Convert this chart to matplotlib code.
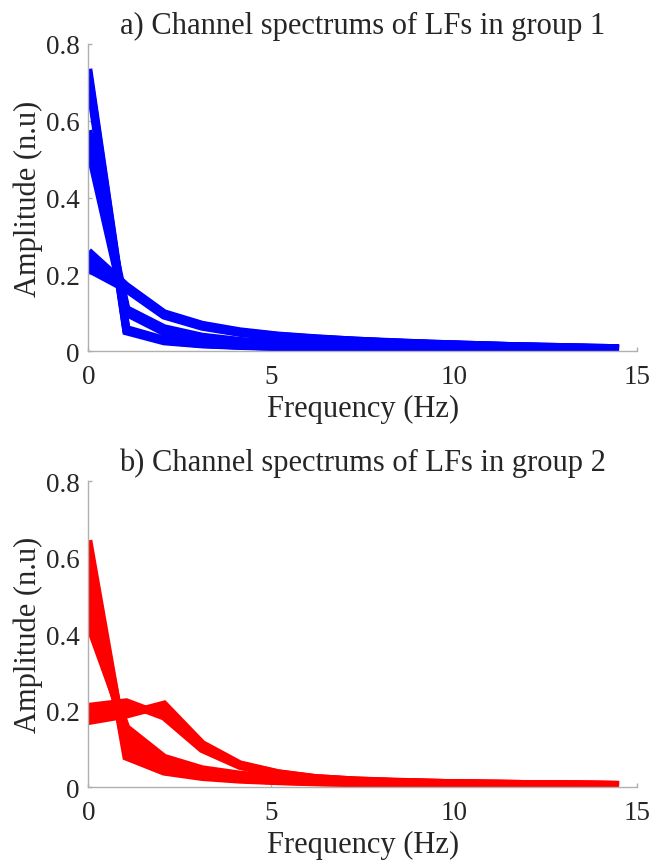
import matplotlib.pyplot as plt
import numpy as np

plt.rcParams['font.family'] = ['Liberation Serif', 'DejaVu Serif']

# frequency bins (Hz)
freq = [0, 1.04, 2.07, 3.11, 4.14, 5.18, 6.21, 7.25, 8.29, 9.32, 10.36, 11.39, 12.43, 13.46, 14.5]

# group 1 spectra (n.u)
g1_a1 = [0.735, 0.058, 0.030, 0.020, 0.015, 0.012, 0.011, 0.010, 0.009, 0.008, 0.008, 0.007, 0.007, 0.006, 0.006]
g1_a2 = [0.725, 0.055, 0.028, 0.019, 0.015, 0.012, 0.010, 0.009, 0.009, 0.008, 0.007, 0.007, 0.006, 0.006, 0.006]
g1_a3 = [0.715, 0.052, 0.026, 0.018, 0.014, 0.011, 0.010, 0.009, 0.008, 0.008, 0.007, 0.007, 0.006, 0.006, 0.005]
g1_b1 = [0.575, 0.110, 0.060, 0.038, 0.027, 0.021, 0.017, 0.014, 0.012, 0.011, 0.010, 0.009, 0.008, 0.007, 0.006]
g1_b2 = [0.555, 0.105, 0.055, 0.035, 0.025, 0.020, 0.016, 0.013, 0.011, 0.010, 0.009, 0.008, 0.007, 0.007, 0.006]
g1_b3 = [0.535, 0.100, 0.050, 0.032, 0.024, 0.019, 0.015, 0.013, 0.011, 0.010, 0.009, 0.008, 0.007, 0.006, 0.006]
g1_c1 = [0.260, 0.170, 0.099, 0.069, 0.052, 0.041, 0.034, 0.028, 0.024, 0.020, 0.017, 0.014, 0.012, 0.010, 0.008]
g1_c2 = [0.245, 0.168, 0.097, 0.067, 0.050, 0.040, 0.033, 0.028, 0.023, 0.020, 0.017, 0.014, 0.012, 0.010, 0.008]
g1_c3 = [0.230, 0.165, 0.095, 0.066, 0.049, 0.039, 0.032, 0.027, 0.023, 0.019, 0.016, 0.014, 0.011, 0.009, 0.007]
g1_c4 = [0.215, 0.162, 0.093, 0.064, 0.048, 0.038, 0.031, 0.026, 0.022, 0.019, 0.016, 0.013, 0.011, 0.009, 0.007]

# group 2 spectra (n.u)
g2_d1 = [0.645, 0.080, 0.041, 0.027, 0.020, 0.016, 0.013, 0.011, 0.010, 0.009, 0.008, 0.007, 0.006, 0.006, 0.005]
g2_d2 = [0.600, 0.095, 0.048, 0.030, 0.022, 0.017, 0.014, 0.012, 0.010, 0.009, 0.008, 0.007, 0.007, 0.006, 0.005]
g2_d3 = [0.550, 0.110, 0.055, 0.034, 0.025, 0.019, 0.015, 0.013, 0.011, 0.010, 0.009, 0.008, 0.007, 0.006, 0.006]
g2_d4 = [0.500, 0.125, 0.062, 0.038, 0.028, 0.021, 0.016, 0.014, 0.012, 0.010, 0.009, 0.008, 0.007, 0.006, 0.006]
g2_d5 = [0.460, 0.140, 0.070, 0.042, 0.030, 0.023, 0.018, 0.015, 0.012, 0.011, 0.009, 0.008, 0.007, 0.007, 0.006]
g2_d6 = [0.430, 0.155, 0.077, 0.047, 0.033, 0.025, 0.019, 0.016, 0.013, 0.011, 0.010, 0.009, 0.008, 0.007, 0.006]
g2_e1 = [0.210, 0.222, 0.185, 0.100, 0.056, 0.035, 0.023, 0.017, 0.014, 0.012, 0.010, 0.009, 0.008, 0.007, 0.006]
g2_e2 = [0.190, 0.205, 0.200, 0.106, 0.058, 0.036, 0.024, 0.018, 0.014, 0.012, 0.010, 0.009, 0.008, 0.007, 0.006]
g2_e3 = [0.173, 0.190, 0.216, 0.113, 0.060, 0.037, 0.024, 0.018, 0.015, 0.012, 0.010, 0.009, 0.008, 0.007, 0.006]

group1 = [g1_a1, g1_a2, g1_a3, g1_b1, g1_b2, g1_b3, g1_c1, g1_c2, g1_c3, g1_c4]
group2 = [g2_d1, g2_d2, g2_d3, g2_d4, g2_d5, g2_d6, g2_e1, g2_e2, g2_e3]

xticks = [0, 5, 10, 15]
xticklabels = ['0', '5', '10', '15']
yticks = [0, 0.2, 0.4, 0.6, 0.8]
yticklabels = ['0', '0.2', '0.4', '0.6', '0.8']

titles = ['a) Channel spectrums of LFs in group 1', 'b) Channel spectrums of LFs in group 2']

txt = '#262626'
axcol = '#b0b0b0'

fig = plt.figure(figsize=(6.54, 8.62), dpi=100)
ax1 = fig.add_axes([0.135, 0.5913, 0.8395, 0.3565])
ax2 = fig.add_axes([0.135, 0.0855, 0.8395, 0.3553])

for ax, group, col, title in [(ax1, group1, 'blue', titles[0]), (ax2, group2, 'red', titles[1])]:
    for spec in group:
        ax.plot(freq, spec, color=col, lw=5.8, solid_joinstyle='miter', solid_capstyle='butt')
    ax.set_xlim(0, 15)
    ax.set_ylim(0, 0.8)
    ax.set_xticks(xticks)
    ax.set_xticklabels(xticklabels)
    ax.set_yticks(yticks)
    ax.set_yticklabels(yticklabels)
    ax.spines['top'].set_visible(False)
    ax.spines['right'].set_visible(False)
    for s in ['left', 'bottom']:
        ax.spines[s].set_color(axcol)
        ax.spines[s].set_linewidth(1)
    ax.tick_params(direction='in', length=3, width=1, color=axcol, labelsize=19.5, labelcolor=txt)
    ax.tick_params(axis='x', pad=9)
    ax.tick_params(axis='y', pad=6)
    ax.set_xlabel('Frequency (Hz)', fontsize=22, color=txt, labelpad=4)
    ax.set_ylabel('Amplitude (n.u)', fontsize=22, color=txt, labelpad=2)
    ax.set_title(title, fontsize=22, color=txt, pad=8)

plt.savefig('out.png', dpi=100)
plt.close()
